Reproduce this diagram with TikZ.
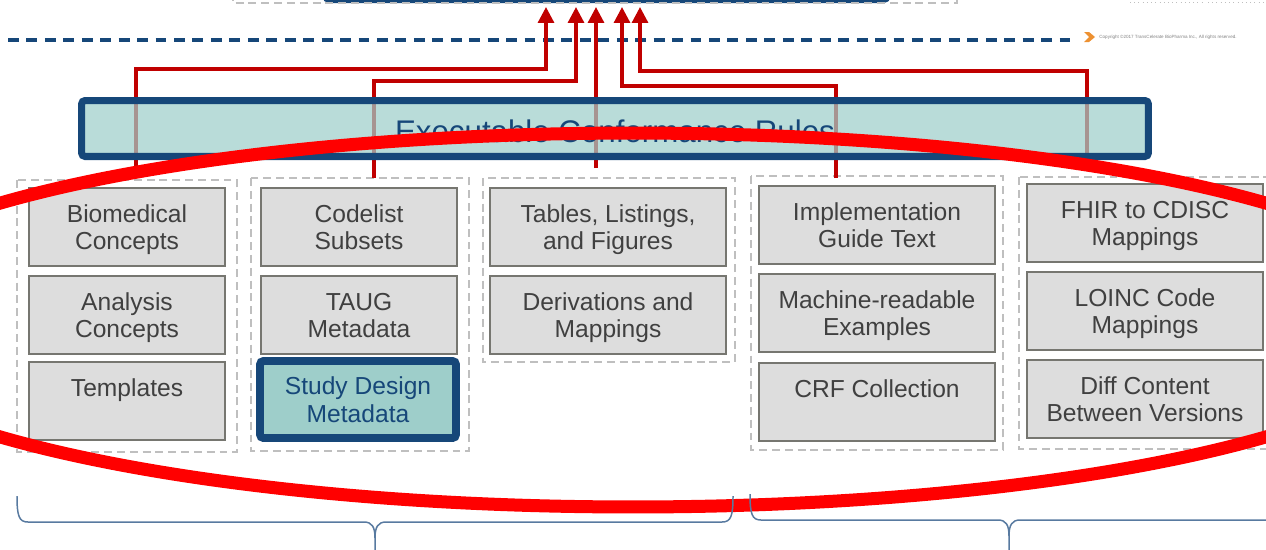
\documentclass[tikz,border=0pt]{standalone}
\usepackage{fontspec}
\setmainfont{Liberation Sans}
\usetikzlibrary{arrows.meta}
\definecolor{ruleblue}{RGB}{22,71,121}
\definecolor{ruleteal}{RGB}{158,206,202}
\definecolor{itemfill}{RGB}{221,221,221}
\definecolor{itemline}{RGB}{118,118,112}
\definecolor{itemtext}{RGB}{64,64,64}
\definecolor{groupline}{RGB}{191,191,191}
\definecolor{linkred}{RGB}{192,0,0}
\definecolor{ringred}{RGB}{255,0,0}
\definecolor{bracecol}{RGB}{88,122,160}
\definecolor{copyorange}{RGB}{237,145,50}
\newcommand{\boxlines}[2]{\rule{0pt}{14.2pt}#1\\#2\rule[-4pt]{0pt}{0pt}}
\begin{document}
\begin{tikzpicture}[x=0.02cm,y=-0.02cm,>={Triangle[width=9pt,length=9pt]},
	item/.style={draw=itemline,line width=0.9pt,fill=itemfill,text=itemtext,align=center,inner sep=0pt,minimum height=1.56cm,font=\fontsize{14}{15.9}\selectfont},
	narrow/.style={item,minimum width=3.92cm},
	wide/.style={item,minimum width=4.72cm},
	group/.style={draw=groupline,line width=1.1pt,dash pattern=on 4.5pt off 2.8pt},
	link/.style={draw=linkred,line width=1.8pt,->},
	brace/.style={draw=bracecol,line width=0.85pt}]
	\useasboundingbox (0,0) rectangle (1266,549);
	\clip (0,0) rectangle (1266,549);
	\draw[ruleblue,line width=4pt,rounded corners=2pt] (326,-40) rectangle (887,-0.5);
	\draw[group] (233,-20) rectangle (957,3);
	\draw[groupline,line width=0.4pt,dotted] (1130,2)--(1205,2);
	\draw[groupline,line width=0.4pt,dotted] (1208,2)--(1266,2);
	\draw[ruleblue,line width=1.8pt,dash pattern=on 6.2pt off 4.3pt] (8,40)--(1076,40);
	\fill[copyorange] (1084,32)--(1089,32)--(1095,37)--(1089,42)--(1084,42)--(1089,37)--cycle;
	\node[anchor=west,inner sep=0pt,text=gray,font=\fontsize{2.6}{3}\selectfont] (copy) at (1099,37) {Copyright ©2017 TransCelerate BioPharma Inc., All rights reserved.};
	\draw[group] (17,180) rectangle (237,452);
	\draw[group] (251,178) rectangle (469,451);
	\draw[group] (483,178) rectangle (735,362);
	\draw[group] (751,176) rectangle (1003,450);
	\draw[group] (1019,177) rectangle (1290,449);
	\node[narrow] (bio) at (127,227) {\boxlines{Biomedical}{Concepts}};
	\node[narrow] (ana) at (127,315) {\boxlines{Analysis}{Concepts}};
	\node[narrow] (tpl) at (127,401) {\boxlines{Templates}{}};
	\node[narrow] (code) at (359,227) {\boxlines{Codelist}{Subsets}};
	\node[narrow] (taug) at (359,315) {\boxlines{TAUG}{Metadata}};
	\node[narrow,draw=ruleblue,line width=4.5pt,fill=ruleteal,text=ruleblue,rounded corners=2pt,minimum height=1.54cm] (sdm) at (358,399.5) {\boxlines{Study Design}{Metadata}};
	\node[wide] (tlf) at (608,227) {\boxlines{Tables, Listings,}{and Figures}};
	\node[wide] (deriv) at (608,315) {\boxlines{Derivations and}{Mappings}};
	\node[wide] (guide) at (877,225) {\boxlines{Implementation}{Guide Text}};
	\node[wide] (examples) at (877,313) {\boxlines{Machine-readable}{Examples}};
	\node[wide] (crf) at (877,402) {\boxlines{CRF Collection}{}};
	\node[wide] (fhir) at (1145,223) {\boxlines{FHIR to CDISC}{Mappings}};
	\node[wide] (loinc) at (1145,311) {\boxlines{LOINC Code}{Mappings}};
	\node[wide] (diff) at (1145,399) {\boxlines{Diff Content}{Between Versions}};
	\coordinate (s1) at (136,177);
	\coordinate (s2) at (374,178);
	\coordinate (s3) at (596,168);
	\coordinate (s4) at (836,178);
	\coordinate (s5) at (1087,158);
	\coordinate (t1) at (546,7);
	\coordinate (t2) at (576,7);
	\coordinate (t3) at (596,7);
	\coordinate (t4) at (622,7);
	\coordinate (t5) at (640,7);
	\draw[link] (s1)--++(0,-108)-|(t1);
	\draw[link] (s2)--++(0,-97)-|(t2);
	\draw[link] (s3)--(t3);
	\draw[link] (s4)--++(0,-92)-|(t4);
	\draw[link] (s5)--++(0,-87)-|(t5);
	\node[draw=ruleblue,line width=4pt,fill=ruleteal,fill opacity=0.72,text opacity=1,rounded corners=2pt,minimum width=21.34cm,minimum height=1.12cm,inner sep=0pt,text=ruleblue,font=\fontsize{17.8}{20}\selectfont] (rules) at (615,128.5) {\raisebox{-1.7pt}[\height][\depth]{Executable Conformance Rules}};
	\draw[ringred,line width=7.4pt] (633,320) ellipse [x radius=16.22cm,y radius=3.74cm];
	\draw[brace] (17,496) .. controls (17,516) and (19,522) .. (28,522)--(364,522) .. controls (372,522) and (375,527) .. (375,538)--(375,552);
	\draw[brace] (375,538) .. controls (375,527) and (378,522) .. (386,522)--(722,522) .. controls (731,522) and (733,516) .. (733,496);
	\draw[brace] (750,494) .. controls (750,514) and (752,520) .. (761,520)--(998,520) .. controls (1006,520) and (1009,525) .. (1009,536)--(1009,552);
	\draw[brace] (1009,536) .. controls (1009,525) and (1012,520) .. (1020,520)--(1280,520);
\end{tikzpicture}
\end{document}
